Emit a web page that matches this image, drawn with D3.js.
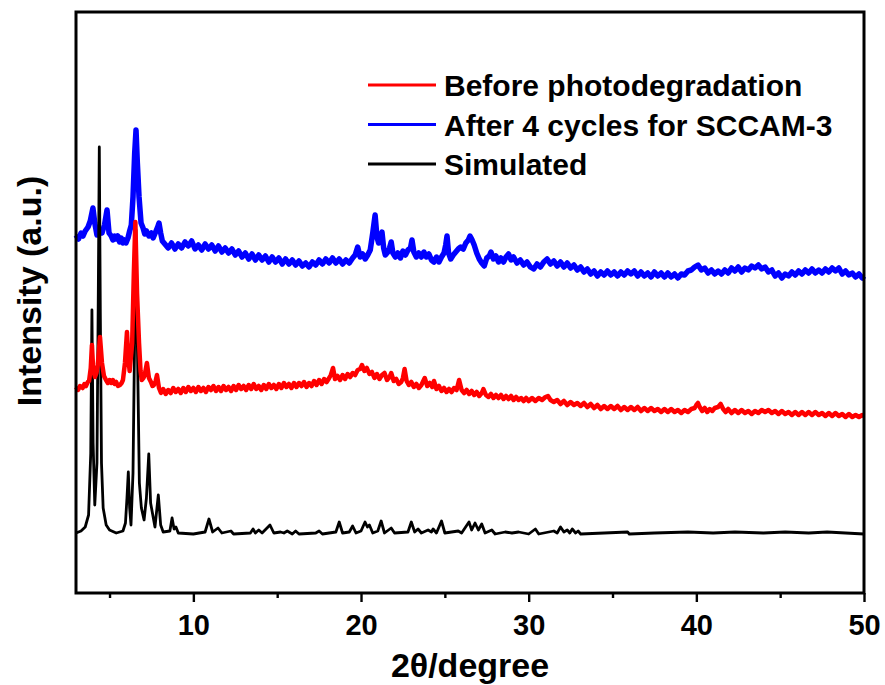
<!DOCTYPE html>
<html>
<head>
<meta charset="utf-8">
<script src="https://cdn.jsdelivr.net/npm/d3@7/dist/d3.min.js"></script>
<style>
  body { margin: 0; background: #fff; }
  svg text { font-family: "Liberation Sans", Arial, sans-serif; font-weight: bold; fill: #000; }
</style>
</head>
<body>
<div id="chart"></div>
<script>
// XRD patterns, [2theta, intensity (a.u.)]
const simulated = [
  [3.0, 60], [3.3, 62], [3.55, 66], [3.75, 78], [3.88, 140], [3.95, 283], [4.02, 150], [4.12, 88],
  [4.25, 130], [4.33, 300], [4.39, 446], [4.45, 280], [4.52, 130], [4.62, 85], [4.8, 68], [5.0, 63],
  [5.4, 60], [5.8, 62], [5.95, 70], [6.04, 95], [6.12, 121], [6.2, 85], [6.28, 68], [6.4, 120],
  [6.5, 260], [6.58, 363], [6.66, 250], [6.78, 110], [6.9, 85], [7.06, 73], [7.2, 95], [7.34, 139],
  [7.45, 90], [7.71, 66], [7.91, 98], [8.05, 68], [8.2, 61], [8.6, 62], [8.73, 75], [8.85, 64],
  [8.96, 66], [9.1, 60], [10.0, 59], [10.7, 61], [10.93, 74], [11.15, 61], [11.47, 65], [11.7, 60],
  [12.24, 62], [12.4, 59], [13.4, 60], [13.56, 64], [13.7, 60], [13.9, 63], [14.1, 60], [14.57, 68],
  [14.8, 60], [15.2, 61], [15.4, 60], [15.6, 62], [15.9, 59], [16.1, 62], [16.3, 59], [17.3, 60],
  [17.5, 62], [17.7, 59], [18.5, 61], [18.7, 71], [18.9, 60], [19.3, 61], [19.5, 67], [19.7, 60],
  [20.0, 62], [20.24, 71], [20.38, 66], [20.5, 68], [20.7, 60], [21.0, 62], [21.2, 72], [21.4, 60],
  [21.8, 65], [22.0, 60], [22.8, 61], [23.0, 71], [23.2, 61], [23.4, 64], [23.6, 60], [24.0, 63],
  [24.2, 61], [24.3, 64], [24.5, 60], [24.8, 72], [25.0, 60], [25.8, 62], [26.0, 60], [26.44, 71],
  [26.6, 63], [26.8, 70], [27.0, 63], [27.2, 69], [27.4, 60], [27.8, 63], [28.0, 59], [28.6, 61],
  [29.0, 60], [29.4, 61], [30.0, 59], [30.4, 64], [30.6, 59], [31.5, 62], [31.7, 60], [31.9, 66],
  [32.1, 61], [32.3, 63], [32.45, 60], [32.6, 64], [32.8, 60], [32.95, 62], [33.1, 59], [35.9, 61],
  [36.0, 59], [37.5, 60], [39.5, 61], [41.0, 60], [42.3, 61], [44.0, 60], [45.3, 61], [46.7, 60],
  [47.8, 61], [50.0, 59]
];

const before = [
  [3.0, 206], [3.12, 203], [3.24, 207], [3.4, 205], [3.5, 209], [3.6, 207], [3.7, 211], [3.78, 212],
  [3.88, 225], [3.95, 248], [4.02, 225], [4.13, 216], [4.22, 220], [4.3, 228], [4.43, 256], [4.55, 230],
  [4.67, 217], [4.79, 213], [4.9, 210], [5.0, 213], [5.1, 210], [5.2, 213], [5.3, 209], [5.4, 211],
  [5.5, 207], [5.62, 208], [5.72, 210], [5.8, 213], [5.92, 230], [6.04, 261], [6.12, 235], [6.2, 222],
  [6.35, 250], [6.45, 320], [6.54, 371], [6.64, 300], [6.76, 250], [6.85, 222], [6.92, 213], [7.02, 215],
  [7.1, 218], [7.23, 230], [7.35, 215], [7.47, 211], [7.56, 207], [7.65, 208], [7.75, 212], [7.83, 218],
  [7.95, 205], [8.07, 200], [8.2, 204], [8.35, 199], [8.5, 203], [8.65, 200], [8.8, 205], [8.95, 201],
  [9.1, 204], [9.25, 200], [9.4, 205], [9.55, 201], [9.7, 206], [9.85, 202], [10.0, 205], [10.15, 201],
  [10.3, 206], [10.45, 202], [10.6, 205], [10.75, 201], [10.9, 206], [11.05, 203], [11.2, 207], [11.35, 202],
  [11.5, 206], [11.65, 202], [11.8, 207], [11.95, 203], [12.1, 206], [12.25, 202], [12.4, 207], [12.55, 203],
  [12.7, 208], [12.85, 204], [13.0, 207], [13.15, 203], [13.3, 208], [13.45, 204], [13.6, 209], [13.75, 204],
  [13.9, 207], [14.05, 203], [14.2, 208], [14.35, 204], [14.5, 209], [14.65, 205], [14.8, 208], [14.95, 204],
  [15.1, 209], [15.25, 205], [15.4, 210], [15.55, 206], [15.7, 209], [15.85, 205], [16.0, 210], [16.15, 206],
  [16.3, 210], [16.45, 207], [16.6, 211], [16.75, 206], [16.9, 210], [17.05, 207], [17.2, 212], [17.35, 208],
  [17.5, 213], [17.65, 209], [17.8, 214], [17.95, 211], [18.1, 215], [18.2, 218], [18.33, 225], [18.45, 214],
  [18.6, 217], [18.75, 213], [18.9, 218], [19.05, 214], [19.2, 219], [19.35, 216], [19.5, 220], [19.65, 218],
  [19.8, 223], [19.95, 224], [20.06, 228], [20.2, 222], [20.35, 225], [20.5, 219], [20.65, 221], [20.8, 215],
  [20.95, 219], [21.1, 214], [21.25, 218], [21.4, 220], [21.55, 213], [21.7, 216], [21.8, 220], [21.95, 212],
  [22.1, 214], [22.25, 209], [22.4, 211], [22.5, 215], [22.6, 224], [22.72, 212], [22.85, 208], [23.0, 211],
  [23.15, 206], [23.3, 209], [23.45, 205], [23.6, 208], [23.8, 215], [23.95, 207], [24.1, 210], [24.25, 206],
  [24.35, 212], [24.5, 204], [24.65, 207], [24.8, 202], [24.95, 205], [25.1, 201], [25.25, 204], [25.4, 201],
  [25.55, 205], [25.7, 203], [25.85, 213], [26.0, 203], [26.15, 200], [26.3, 203], [26.45, 199], [26.6, 202],
  [26.75, 198], [26.9, 201], [27.05, 197], [27.2, 200], [27.3, 204], [27.45, 198], [27.6, 196], [27.75, 199],
  [27.9, 195], [28.05, 198], [28.2, 195], [28.35, 198], [28.5, 194], [28.65, 197], [28.8, 194], [28.95, 197],
  [29.1, 193], [29.25, 196], [29.4, 193], [29.55, 195], [29.7, 192], [29.85, 195], [30.0, 192], [30.2, 195],
  [30.4, 192], [30.6, 195], [30.8, 193], [31.0, 196], [31.15, 197], [31.3, 193], [31.5, 191], [31.7, 193],
  [31.9, 189], [32.1, 192], [32.3, 188], [32.5, 191], [32.7, 188], [32.9, 190], [33.1, 187], [33.3, 190],
  [33.5, 186], [33.7, 189], [33.9, 185], [34.1, 188], [34.3, 184], [34.5, 187], [34.7, 184], [34.9, 187],
  [35.1, 184], [35.3, 187], [35.5, 183], [35.7, 186], [35.9, 183], [36.1, 186], [36.3, 183], [36.5, 186],
  [36.7, 182], [36.9, 185], [37.1, 182], [37.3, 185], [37.5, 182], [37.7, 184], [37.9, 181], [38.1, 184],
  [38.3, 181], [38.5, 184], [38.7, 181], [38.9, 183], [39.1, 180], [39.3, 183], [39.5, 181], [39.7, 184],
  [39.9, 185], [40.0, 188], [40.1, 190], [40.2, 186], [40.35, 182], [40.5, 185], [40.65, 181], [40.8, 184],
  [40.95, 182], [41.1, 185], [41.3, 186], [41.45, 189], [41.6, 184], [41.75, 181], [41.9, 184], [42.1, 180],
  [42.3, 183], [42.5, 180], [42.7, 183], [42.9, 180], [43.1, 182], [43.3, 179], [43.5, 182], [43.7, 180],
  [43.9, 183], [44.1, 181], [44.3, 183], [44.5, 180], [44.7, 182], [44.9, 179], [45.1, 182], [45.3, 179],
  [45.5, 181], [45.7, 178], [45.9, 181], [46.1, 178], [46.3, 181], [46.5, 178], [46.7, 181], [46.9, 178],
  [47.1, 181], [47.3, 178], [47.5, 180], [47.7, 177], [47.9, 180], [48.1, 177], [48.3, 180], [48.5, 177],
  [48.7, 179], [48.9, 176], [49.1, 179], [49.3, 176], [49.5, 178], [49.7, 176], [49.9, 178], [50.0, 177]
];

const after = [
  [3.0, 358], [3.15, 354], [3.3, 360], [3.42, 357], [3.55, 362], [3.72, 366], [3.85, 372], [4.01, 385],
  [4.12, 370], [4.25, 358], [4.4, 363], [4.55, 360], [4.7, 368], [4.85, 383], [4.97, 360], [5.1, 357],
  [5.2, 353], [5.3, 357], [5.39, 354], [5.5, 357], [5.6, 351], [5.7, 355], [5.8, 350], [5.9, 353],
  [5.98, 350], [6.1, 355], [6.2, 362], [6.3, 368], [6.4, 396], [6.5, 440], [6.58, 463], [6.66, 430],
  [6.76, 396], [6.88, 370], [7.0, 365], [7.1, 359], [7.2, 362], [7.35, 357], [7.5, 360], [7.6, 355],
  [7.75, 361], [7.87, 366], [7.95, 370], [8.05, 360], [8.15, 352], [8.3, 349], [8.5, 345], [8.7, 350],
  [8.9, 344], [9.1, 349], [9.3, 345], [9.5, 351], [9.7, 347], [9.9, 352], [10.1, 344], [10.3, 348],
  [10.5, 343], [10.7, 349], [10.9, 344], [11.1, 348], [11.3, 342], [11.5, 347], [11.7, 341], [11.9, 345],
  [12.1, 340], [12.3, 344], [12.5, 338], [12.7, 342], [12.9, 336], [13.1, 340], [13.3, 334], [13.5, 339],
  [13.7, 333], [13.9, 338], [14.1, 333], [14.3, 337], [14.5, 331], [14.7, 336], [14.9, 331], [15.1, 335],
  [15.3, 329], [15.5, 334], [15.7, 329], [15.9, 333], [16.1, 328], [16.3, 332], [16.5, 327], [16.7, 330],
  [16.9, 326], [17.1, 331], [17.3, 328], [17.5, 333], [17.7, 329], [17.9, 334], [18.1, 330], [18.3, 335],
  [18.5, 330], [18.7, 334], [18.9, 329], [19.1, 333], [19.3, 330], [19.5, 335], [19.65, 338], [19.8, 346],
  [19.95, 336], [20.1, 339], [20.25, 334], [20.4, 338], [20.55, 343], [20.7, 360], [20.84, 378], [20.95, 356],
  [21.05, 350], [21.15, 356], [21.25, 361], [21.35, 345], [21.45, 338], [21.6, 341], [21.7, 345], [21.8, 351],
  [21.9, 340], [22.05, 336], [22.2, 340], [22.35, 335], [22.5, 342], [22.65, 338], [22.8, 343], [22.95, 345],
  [23.04, 353], [23.15, 341], [23.3, 336], [23.45, 340], [23.6, 336], [23.75, 341], [23.9, 336], [24.05, 339],
  [24.2, 333], [24.35, 331], [24.5, 336], [24.65, 331], [24.8, 336], [24.95, 340], [25.05, 348], [25.13, 357],
  [25.22, 340], [25.35, 334], [25.5, 338], [25.65, 341], [25.8, 344], [25.95, 346], [26.1, 344], [26.25, 350],
  [26.4, 353], [26.5, 357], [26.6, 354], [26.75, 348], [26.9, 340], [27.05, 334], [27.2, 330], [27.35, 327],
  [27.5, 335], [27.65, 337], [27.75, 341], [27.9, 334], [28.05, 337], [28.2, 331], [28.35, 335], [28.5, 331],
  [28.65, 336], [28.8, 339], [28.95, 333], [29.1, 336], [29.3, 330], [29.5, 333], [29.7, 328], [29.9, 331],
  [30.1, 326], [30.3, 324], [30.5, 329], [30.7, 326], [30.9, 331], [31.1, 334], [31.3, 329], [31.5, 332],
  [31.7, 327], [31.9, 331], [32.1, 326], [32.3, 330], [32.5, 325], [32.7, 328], [32.9, 323], [33.1, 326],
  [33.3, 321], [33.5, 324], [33.7, 319], [33.9, 322], [34.1, 317], [34.3, 321], [34.5, 318], [34.7, 322],
  [34.9, 318], [35.1, 321], [35.3, 317], [35.5, 321], [35.7, 318], [35.9, 322], [36.1, 319], [36.3, 322],
  [36.5, 317], [36.7, 321], [36.9, 317], [37.1, 320], [37.3, 316], [37.5, 321], [37.7, 317], [37.9, 320],
  [38.1, 316], [38.3, 320], [38.5, 316], [38.7, 319], [38.9, 315], [39.1, 319], [39.3, 318], [39.5, 322],
  [39.7, 323], [39.9, 326], [40.1, 328], [40.3, 323], [40.5, 325], [40.7, 320], [40.9, 323], [41.1, 319],
  [41.3, 322], [41.5, 319], [41.7, 323], [41.9, 320], [42.1, 325], [42.3, 322], [42.5, 326], [42.7, 321],
  [42.9, 325], [43.1, 323], [43.3, 327], [43.5, 325], [43.7, 328], [43.9, 324], [44.1, 326], [44.3, 321],
  [44.5, 323], [44.7, 317], [44.9, 320], [45.1, 315], [45.3, 319], [45.5, 317], [45.7, 321], [45.9, 318],
  [46.1, 322], [46.3, 319], [46.5, 323], [46.7, 320], [46.9, 324], [47.1, 320], [47.3, 323], [47.5, 320],
  [47.7, 324], [47.9, 321], [48.1, 325], [48.3, 322], [48.5, 325], [48.7, 319], [48.9, 322], [49.1, 318],
  [49.3, 320], [49.5, 316], [49.7, 319], [49.9, 315], [50.0, 317]
];

const legendLabels = ["Before photodegradation", "After 4 cycles for SCCAM-3", "Simulated"];
const majorTicks = [10, 20, 30, 40, 50];
const minorTicks = [5, 15, 25, 35, 45];

const margin = { top: 12, right: 21, bottom: 92, left: 76 };
const width = 885 - margin.left - margin.right;
const height = 685 - margin.top - margin.bottom;

const svg = d3.select("#chart")
  .append("svg")
  .attr("width", 885)
  .attr("height", 685);

const g = svg.append("g")
  .attr("transform", `translate(${margin.left},${margin.top})`);

const x = d3.scaleLinear().domain([3, 50]).range([0, width]);
const y = d3.scaleLinear().domain([0, 581]).range([height, 0]);

const line = d3.line()
  .x((d) => x(d[0]))
  .y((d) => y(d[1]));

// curves: after (blue) underneath, then simulated, then before
g.append("path")
  .datum(after)
  .attr("fill", "none")
  .attr("stroke", "#0000ff")
  .attr("stroke-width", 5.5)
  .attr("stroke-linejoin", "round")
  .attr("d", line);

g.append("path")
  .datum(simulated)
  .attr("fill", "none")
  .attr("stroke", "#000")
  .attr("stroke-width", 2.8)
  .attr("stroke-linejoin", "round")
  .attr("d", line);

g.append("path")
  .datum(before)
  .attr("fill", "none")
  .attr("stroke", "#ff0000")
  .attr("stroke-width", 4.5)
  .attr("stroke-linejoin", "round")
  .attr("d", line);

// frame
g.append("rect")
  .attr("width", width)
  .attr("height", height)
  .attr("fill", "none")
  .attr("stroke", "#000")
  .attr("stroke-width", 3);

// x axis, major + minor ticks
const xAxis = g.append("g")
  .attr("transform", `translate(0,${height})`)
  .call(d3.axisBottom(x).tickValues(majorTicks).tickSize(9).tickPadding(12));
xAxis.select(".domain").remove();
xAxis.selectAll("line").attr("stroke-width", 2.4);
xAxis.selectAll("text")
  .attr("font-size", 29)
  .attr("font-family", null);

const xMinor = g.append("g")
  .attr("transform", `translate(0,${height})`)
  .call(d3.axisBottom(x).tickValues(minorTicks).tickSize(5).tickFormat(""));
xMinor.select(".domain").remove();
xMinor.selectAll("line").attr("stroke-width", 2.4);

// axis titles
svg.append("text")
  .attr("x", margin.left + width / 2)
  .attr("y", 677)
  .attr("text-anchor", "middle")
  .attr("font-size", 34)
  .text("2θ/degree");

svg.append("text")
  .attr("transform", "translate(41,291) rotate(-90)")
  .attr("text-anchor", "middle")
  .attr("font-size", 34)
  .text("Intensity (a.u.)");

// legend
const legendColors = ["#ff0000", "#0000ff", "#000"];
const legend = svg.append("g").attr("transform", "translate(368,85)");
legendLabels.forEach((label, i) => {
  const row = legend.append("g").attr("transform", `translate(0,${i * 39.5})`);
  row.append("line")
    .attr("x1", 0).attr("x2", 68)
    .attr("stroke", legendColors[i])
    .attr("stroke-width", 3);
  row.append("text")
    .attr("x", 76)
    .attr("y", 11)
    .attr("font-size", 30)
    .text(label);
});
</script>
</body>
</html>
